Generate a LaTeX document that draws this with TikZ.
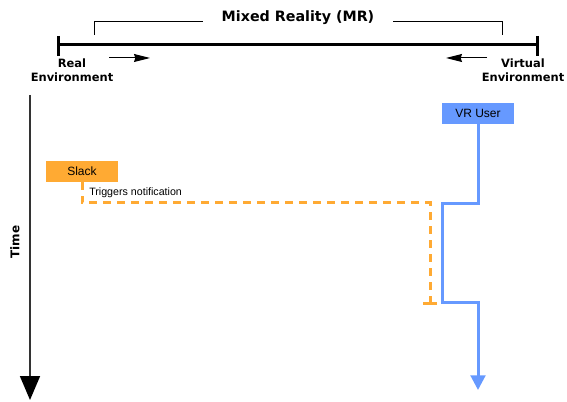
\documentclass[tikz,border=0pt]{standalone}
\usepackage{fontspec}
\setmainfont{DejaVu Sans}
\newfontfamily\arialfont{Liberation Sans}
\usetikzlibrary{arrows.meta, positioning}

\definecolor{slackorange}{HTML}{FFAA33}
\definecolor{vrblue}{HTML}{6699FF}
\definecolor{axisgray}{HTML}{333333}

\tikzset{
	envlabel/.style={font=\bfseries\fontsize{8.6}{10}\selectfont, align=center, inner sep=0pt},
	actor/.style={minimum width=54pt, minimum height=15.75pt, inner sep=0pt, font=\arialfont\fontsize{9}{10.8}\selectfont},
	drift/.style={line width=0.75pt, -{Stealth[length=12pt, width=6pt, inset=1pt]}},
}

\begin{document}
\begin{tikzpicture}[x=0.75pt, y=-0.75pt]

	\useasboundingbox (0,0) rectangle (567,402);

	% Mixed reality scale
	\coordinate (realend) at (58,45);
	\coordinate (virtend) at (537,45);
	\draw[line width=2.25pt] (realend) -- (virtend);
	\draw[line width=2.25pt] (realend) +(0,-9) -- +(0,11);
	\draw[line width=2.25pt] (virtend) +(0,-9) -- +(0,11);

	% MR bracket
	\node[anchor=base, inner sep=0pt, font=\bfseries\fontsize{10.7}{12.8}\selectfont] (mr) at (298,22) {Mixed Reality (MR)};
	\draw[line width=0.75pt] ([xshift=-14pt]mr.base west) -| (94,35);
	\draw[line width=0.75pt] ([xshift=14pt]mr.base east) -| (502,35);

	% Ends of the scale
	\node[envlabel, anchor=north] (real) at (72,59) {Real\\Environment};
	\node[envlabel, anchor=north] (virtual) at (523,59) {Virtual\\Environment};
	\draw[drift] (109,58) -- (150,58);
	\draw[drift] (487,58) -- (446,58);

	% Time axis
	\coordinate (timetop) at (30,95);
	\coordinate (timeend) at (30,400);
	\draw[axisgray, line width=1.25pt, -{Triangle[length=18pt, width=15pt, color=black]}] (timetop) -- (timeend);
	\node[rotate=90, font=\bfseries\fontsize{9}{10.8}\selectfont] (time) at (15,242) {Time};

	% Actors
	\node[actor, fill=slackorange] (slack) at (82,171.5) {Slack};
	\node[actor, fill=vrblue] (vruser) at (478,113.5) {VR User};

	% Notification
	\coordinate (alertturn) at (430,203);
	\coordinate (alertend) at (430,305);
	\draw[slackorange, line width=2.25pt, dash pattern=on 6pt off 4.5pt, -{Bar[width=10.5pt]}] (slack.south) |- (alertturn) -- (alertend);
	\node[anchor=base west, inner sep=0pt, font=\arialfont\fontsize{8}{9.6}\selectfont] (trigger) at (89,196) {Triggers notification};

	% VR user timeline
	\coordinate (dodgetop) at (442,204);
	\coordinate (dodgebottom) at (442,303);
	\coordinate (vrend) at (478,390);
	\draw[vrblue, line width=2.25pt, -{Triangle[length=11pt, width=11pt]}] (vruser.south) |- (dodgetop) -- (dodgebottom) -| (vrend);

\end{tikzpicture}
\end{document}
